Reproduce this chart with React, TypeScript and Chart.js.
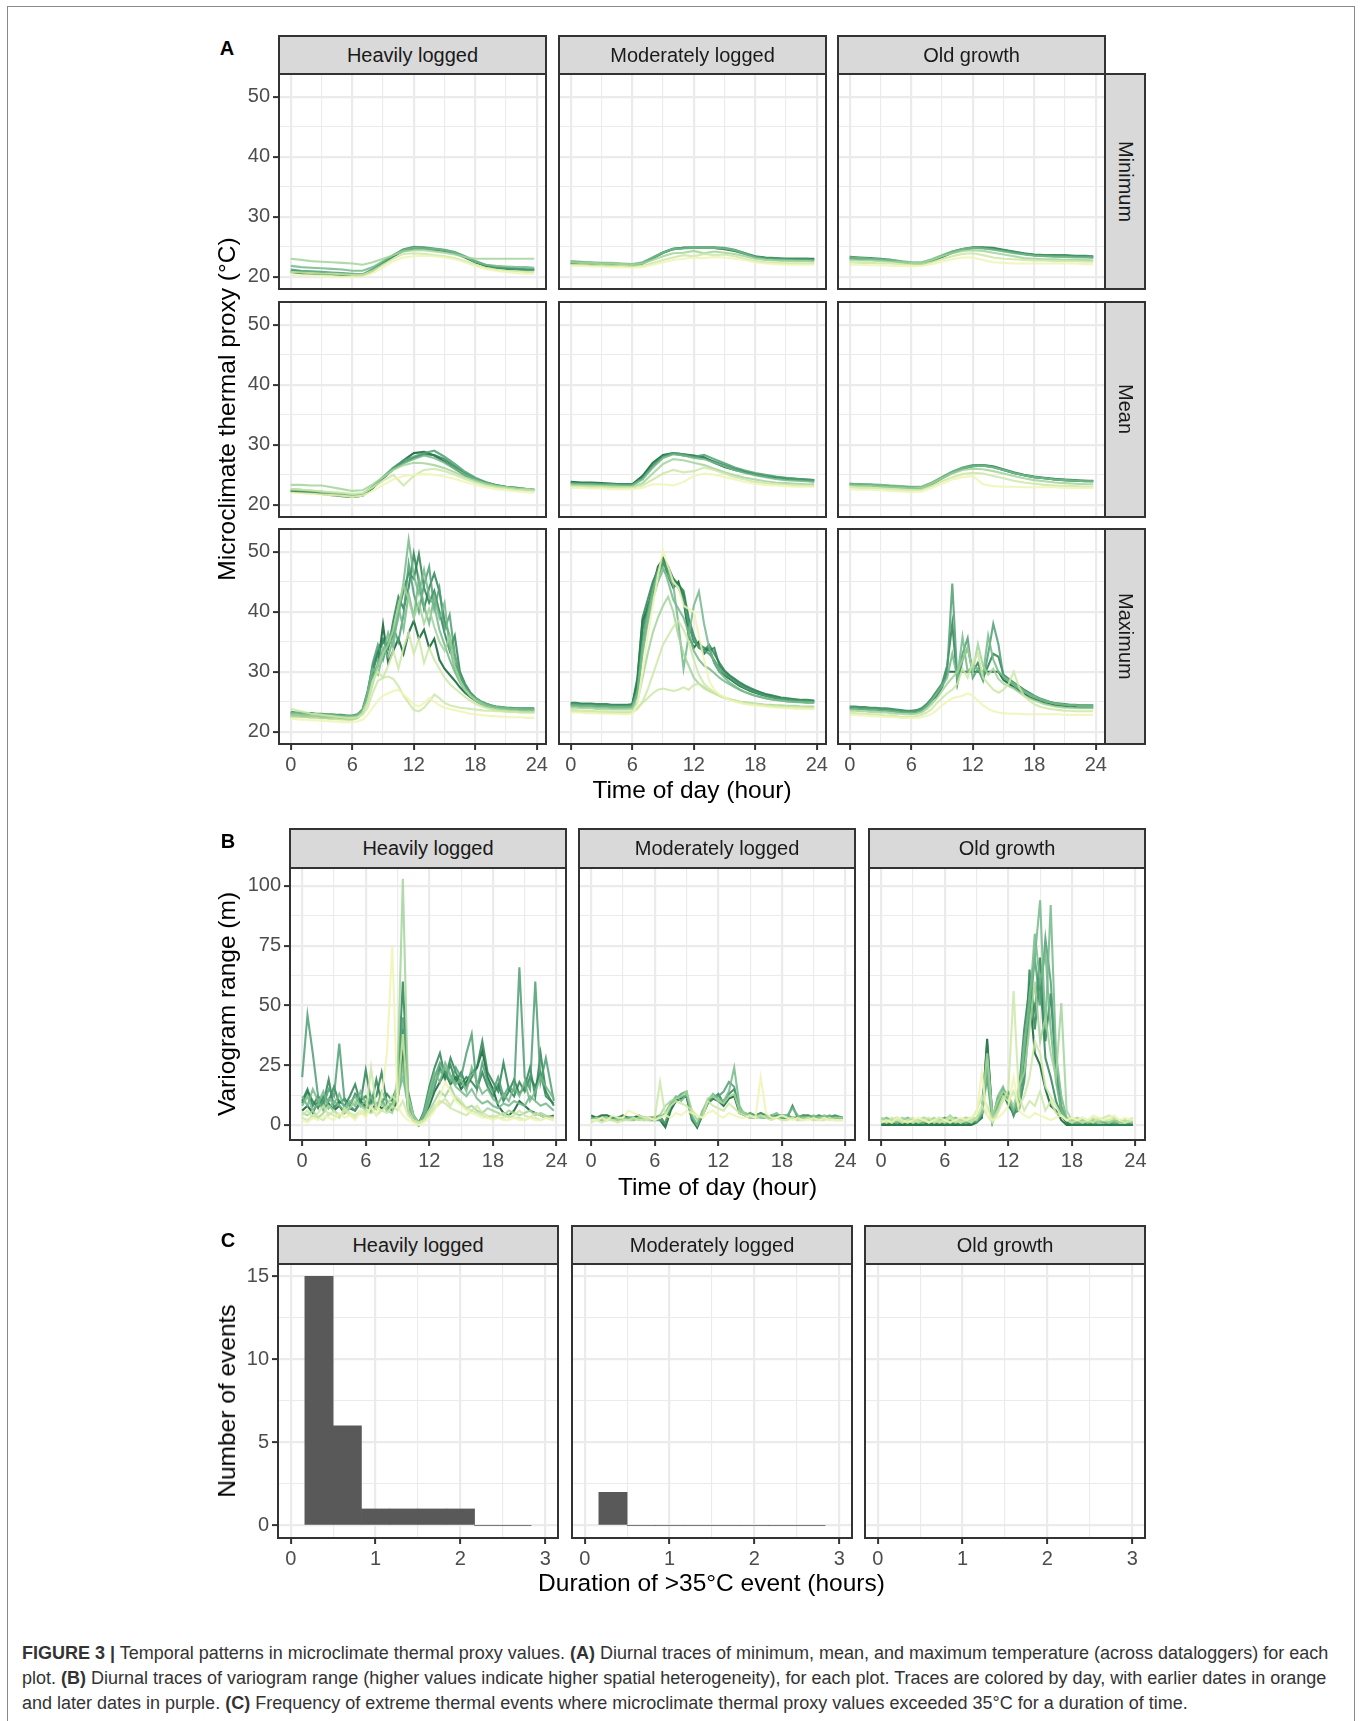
import { useEffect, useRef } from "react";
import { Chart, registerables } from "chart.js";

Chart.register(...registerables);

const FONT = '"Liberation Sans", Arial, Helvetica, sans-serif';
Chart.defaults.font.family = FONT;

// facet names
const PLOTS = ["Heavily logged", "Moderately logged", "Old growth"];
const STATS = ["Minimum", "Mean", "Maximum"];

// sample times (hour of day)
const HOURS = [0, 1, 2, 3, 4, 5, 6, 7, 8, 9, 10, 11, 12, 13, 14, 15, 16, 17, 18, 19, 20, 21, 22, 23, 23.75];
const HALF_HOURS = [
  0, 0.5, 1, 1.5, 2, 2.5, 3, 3.5, 4, 4.5, 5, 5.5,
  6, 6.5, 7, 7.5, 8, 8.5, 9, 9.5, 10, 10.5, 11, 11.5,
  12, 12.5, 13, 13.5, 14, 14.5, 15, 15.5, 16, 16.5, 17, 17.5,
  18, 18.5, 19, 19.5, 20, 20.5, 21, 21.5, 22, 22.5, 23, 23.75,
];

// grid breaks, and the breaks that carry a label
const HOUR_BREAKS = [0, 3, 6, 9, 12, 15, 18, 21, 24];
const HOUR_LABELS = [0, 6, 12, 18, 24];
const TEMP_BREAKS = [20, 25, 30, 35, 40, 45, 50];
const TEMP_LABELS = [20, 30, 40, 50];
const RANGE_BREAKS = [0, 12.5, 25, 37.5, 50, 62.5, 75, 87.5, 100];
const RANGE_LABELS = [0, 25, 50, 75, 100];
const DURATION_BREAKS = [0, 0.5, 1, 1.5, 2, 2.5, 3];
const DURATION_LABELS = [0, 1, 2, 3];
const COUNT_BREAKS = [0, 2.5, 5, 7.5, 10, 12.5, 15];
const COUNT_LABELS = [0, 5, 10, 15];

// day colours, earliest (lightest) first
const DAY_COLORS = ["#eef5b4", "#cde7a6", "#a2d39a", "#74b98a", "#4f9d74", "#2b8352", "#0b6030"];

// ---- A: minimum (hourly) ----
const MIN_HEAVY = [
  [20.3, 20.2, 20.2, 20.1, 20.1, 20.0, 20.0, 20.0, 20.6, 21.5, 22.6, 23.2, 23.4, 23.5, 23.4, 23.2, 22.9, 22.4, 21.8, 21.3, 21.0, 20.8, 20.6, 20.5, 20.5],
  [20.8, 20.7, 20.6, 20.5, 20.5, 20.4, 20.3, 20.3, 21.0, 22.0, 23.0, 23.8, 23.9, 23.8, 23.6, 23.4, 23.1, 22.6, 22.0, 21.5, 21.2, 21.0, 20.9, 20.8, 20.8],
  [23.0, 22.8, 22.6, 22.5, 22.4, 22.3, 22.2, 22.0, 22.4, 23.0, 23.6, 24.2, 24.4, 24.4, 24.2, 24.0, 23.7, 23.3, 23.0, 23.0, 23.0, 23.0, 23.0, 23.0, 23.0],
  [21.8, 21.6, 21.5, 21.4, 21.3, 21.2, 21.0, 21.0, 21.6, 22.6, 23.6, 24.4, 24.8, 24.7, 24.6, 24.4, 24.0, 23.3, 22.5, 22.0, 21.8, 21.7, 21.6, 21.6, 21.5],
  [21.2, 21.0, 20.9, 20.8, 20.7, 20.6, 20.5, 20.4, 21.3, 22.4, 23.6, 24.6, 25.0, 24.9, 24.7, 24.5, 24.1, 23.4, 22.6, 22.0, 21.6, 21.4, 21.3, 21.2, 21.2],
  [21.0, 20.8, 20.6, 20.5, 20.4, 20.4, 20.3, 20.3, 21.1, 22.3, 23.5, 24.5, 24.9, 24.8, 24.6, 24.4, 24.0, 23.3, 22.5, 21.9, 21.5, 21.3, 21.2, 21.1, 21.1],
  [20.8, 20.6, 20.5, 20.4, 20.3, 20.2, 20.2, 20.2, 21.0, 22.2, 23.4, 24.3, 24.7, 24.7, 24.5, 24.3, 23.9, 23.2, 22.4, 21.8, 21.5, 21.4, 21.3, 21.2, 21.2],
];
const MIN_MODERATE = [
  [21.8, 21.8, 21.7, 21.7, 21.6, 21.6, 21.5, 21.6, 22.0, 22.4, 22.8, 23.0, 23.2, 23.1, 23.3, 23.2, 23.0, 22.8, 22.4, 22.2, 22.1, 22.0, 22.0, 22.0, 22.0],
  [22.0, 22.0, 21.9, 21.9, 21.8, 21.8, 21.7, 21.8, 22.3, 22.8, 23.2, 23.6, 23.4, 23.8, 23.6, 23.7, 23.4, 23.0, 22.6, 22.4, 22.3, 22.2, 22.2, 22.2, 22.2],
  [22.4, 22.3, 22.3, 22.2, 22.2, 22.1, 22.0, 22.2, 22.8, 23.4, 23.9, 24.0, 24.3, 23.9, 24.2, 24.0, 23.8, 23.4, 23.0, 22.8, 22.7, 22.6, 22.6, 22.6, 22.5],
  [22.6, 22.5, 22.4, 22.3, 22.3, 22.2, 22.1, 22.4, 23.2, 24.0, 24.6, 24.7, 24.8, 24.8, 24.8, 24.7, 24.4, 23.8, 23.2, 22.9, 22.8, 22.8, 22.7, 22.7, 22.7],
  [22.5, 22.4, 22.3, 22.2, 22.1, 22.0, 21.9, 22.3, 23.2, 24.1, 24.7, 24.8, 24.9, 24.9, 24.9, 24.8, 24.5, 23.9, 23.3, 23.1, 23.0, 22.9, 22.9, 22.9, 22.8],
  [22.3, 22.2, 22.1, 22.0, 21.9, 21.8, 21.8, 22.2, 23.1, 24.0, 24.6, 24.8, 24.8, 24.8, 24.8, 24.7, 24.4, 23.9, 23.4, 23.2, 23.1, 23.0, 23.0, 23.0, 22.9],
  [22.2, 22.1, 22.0, 21.9, 21.8, 21.8, 21.8, 22.2, 23.1, 24.0, 24.6, 24.8, 24.8, 24.8, 24.8, 24.6, 24.3, 23.8, 23.3, 23.1, 23.0, 23.0, 23.0, 23.0, 23.0],
];
const MIN_OLD = [
  [22.0, 22.0, 21.9, 21.9, 21.8, 21.8, 21.7, 21.8, 22.1, 22.5, 22.9, 23.2, 23.2, 22.8, 22.4, 22.3, 22.2, 22.2, 22.2, 22.2, 22.2, 22.2, 22.2, 22.1, 22.1],
  [22.4, 22.3, 22.3, 22.2, 22.2, 22.1, 22.0, 22.0, 22.4, 22.9, 23.4, 23.8, 23.9, 23.6, 23.2, 23.0, 22.9, 22.8, 22.7, 22.7, 22.6, 22.6, 22.6, 22.5, 22.5],
  [22.8, 22.7, 22.7, 22.6, 22.5, 22.4, 22.3, 22.3, 22.8, 23.4, 23.9, 24.3, 24.4, 24.3, 24.0, 23.7, 23.4, 23.1, 23.0, 22.9, 22.9, 22.8, 22.8, 22.8, 22.7],
  [23.2, 23.1, 23.0, 22.9, 22.8, 22.6, 22.4, 22.4, 22.9, 23.6, 24.2, 24.6, 24.8, 24.7, 24.5, 24.2, 23.9, 23.7, 23.5, 23.4, 23.3, 23.3, 23.2, 23.2, 23.2],
  [23.0, 22.9, 22.9, 22.8, 22.7, 22.5, 22.3, 22.2, 22.8, 23.5, 24.2, 24.6, 24.8, 24.8, 24.6, 24.4, 24.1, 23.8, 23.6, 23.5, 23.5, 23.4, 23.4, 23.3, 23.3],
  [23.3, 23.2, 23.1, 23.0, 22.8, 22.5, 22.3, 22.2, 22.7, 23.4, 24.1, 24.6, 24.9, 24.9, 24.8, 24.5, 24.2, 23.9, 23.7, 23.6, 23.6, 23.6, 23.5, 23.5, 23.4],
  [23.1, 23.0, 23.0, 22.9, 22.7, 22.4, 22.2, 22.1, 22.6, 23.3, 24.0, 24.5, 24.8, 24.8, 24.7, 24.4, 24.1, 23.8, 23.6, 23.5, 23.5, 23.4, 23.4, 23.3, 23.2],
];

// ---- A: mean (hourly) ----
const MEAN_HEAVY = [
  [22.0, 21.9, 21.8, 21.7, 21.6, 21.5, 21.3, 21.5, 22.3, 23.3, 24.2, 24.8, 25.0, 25.1, 25.0, 24.7, 24.3, 23.8, 23.3, 22.9, 22.6, 22.4, 22.2, 22.1, 22.0],
  [22.6, 22.5, 22.4, 22.2, 22.1, 22.0, 21.8, 21.9, 22.9, 24.0, 25.0, 23.2, 24.8, 25.8, 26.0, 25.6, 25.0, 24.3, 23.7, 23.2, 22.9, 22.7, 22.5, 22.4, 22.3],
  [23.3, 23.3, 23.2, 23.2, 22.9, 22.6, 22.3, 22.4, 23.4, 24.6, 25.8, 26.6, 27.0, 26.9, 26.6, 26.1, 25.4, 24.6, 24.0, 23.5, 23.1, 22.9, 22.7, 22.6, 22.5],
  [22.6, 22.5, 22.3, 22.2, 22.0, 21.8, 21.6, 21.8, 23.0, 24.5, 25.9, 26.9, 27.6, 28.2, 27.8, 27.0, 26.0, 25.0, 24.2, 23.6, 23.2, 22.9, 22.7, 22.6, 22.5],
  [22.4, 22.3, 22.2, 22.0, 21.8, 21.6, 21.4, 21.6, 23.0, 24.6, 26.2, 27.4, 28.0, 28.6, 29.0, 28.0, 26.8, 25.5, 24.5, 23.8, 23.3, 23.0, 22.8, 22.6, 22.5],
  [22.3, 22.2, 22.1, 21.9, 21.7, 21.5, 21.3, 21.5, 22.8, 24.4, 25.9, 27.0, 27.8, 28.4, 28.3, 27.6, 26.4, 25.2, 24.3, 23.7, 23.3, 23.0, 22.8, 22.6, 22.5],
  [22.2, 22.1, 22.0, 21.8, 21.6, 21.4, 21.3, 21.5, 22.8, 24.4, 26.0, 27.4, 28.6, 28.8, 28.2, 27.2, 26.0, 24.9, 24.1, 23.6, 23.2, 22.9, 22.7, 22.5, 22.4],
];
const MEAN_MODERATE = [
  [22.8, 22.8, 22.7, 22.7, 22.6, 22.6, 22.6, 22.8, 23.4, 23.4, 23.2, 23.8, 24.8, 25.2, 25.0, 24.6, 24.2, 23.8, 23.5, 23.3, 23.2, 23.1, 23.0, 23.0, 23.0],
  [23.0, 23.0, 22.9, 22.9, 22.8, 22.8, 22.8, 23.2, 24.2, 25.2, 25.8, 25.4, 25.6, 26.2, 25.8, 25.2, 24.6, 24.2, 23.8, 23.6, 23.4, 23.3, 23.2, 23.2, 23.1],
  [23.2, 23.2, 23.1, 23.1, 23.0, 23.0, 23.0, 23.6, 25.2, 26.8, 27.6, 27.4, 27.0, 26.6, 26.0, 25.4, 24.9, 24.5, 24.2, 23.9, 23.7, 23.6, 23.5, 23.4, 23.4],
  [23.5, 23.4, 23.4, 23.3, 23.3, 23.2, 23.2, 24.2, 26.2, 27.8, 28.4, 28.2, 27.8, 27.6, 27.0, 26.4, 25.8, 25.3, 24.9, 24.6, 24.3, 24.1, 24.0, 23.9, 23.8],
  [23.6, 23.5, 23.5, 23.4, 23.4, 23.3, 23.3, 24.4, 26.4, 28.0, 28.6, 28.4, 28.0, 28.3, 27.6, 26.9, 26.2, 25.7, 25.3, 25.0, 24.7, 24.5, 24.3, 24.2, 24.1],
  [23.7, 23.6, 23.6, 23.5, 23.5, 23.4, 23.4, 24.5, 26.6, 28.1, 28.5, 28.2, 28.0, 27.8, 27.2, 26.6, 26.0, 25.5, 25.1, 24.8, 24.6, 24.4, 24.3, 24.2, 24.1],
  [23.8, 23.7, 23.7, 23.6, 23.5, 23.4, 23.4, 24.8, 27.0, 28.3, 28.6, 28.4, 28.2, 27.9, 27.0, 26.3, 25.8, 25.4, 25.0, 24.7, 24.5, 24.3, 24.2, 24.1, 24.0],
];
const MEAN_OLD = [
  [22.6, 22.5, 22.5, 22.4, 22.3, 22.2, 22.1, 22.2, 22.8, 23.5, 24.2, 24.6, 24.8, 23.4, 23.1, 23.0, 23.0, 22.9, 22.9, 22.9, 22.9, 22.8, 22.8, 22.8, 22.8],
  [22.9, 22.8, 22.8, 22.7, 22.6, 22.5, 22.4, 22.5, 23.1, 23.9, 24.6, 25.1, 25.3, 25.2, 24.8, 24.4, 24.0, 23.7, 23.5, 23.3, 23.2, 23.1, 23.1, 23.0, 23.0],
  [23.2, 23.1, 23.1, 23.0, 22.9, 22.8, 22.7, 22.8, 23.5, 24.4, 25.2, 25.8, 26.0, 25.9, 25.6, 25.2, 24.8, 24.4, 24.1, 23.9, 23.7, 23.6, 23.5, 23.4, 23.4],
  [23.5, 23.4, 23.4, 23.3, 23.2, 23.1, 23.0, 23.0, 23.7, 24.6, 25.5, 26.1, 26.4, 26.5, 26.2, 25.8, 25.3, 24.9, 24.6, 24.4, 24.2, 24.1, 24.0, 23.9, 23.9],
  [23.4, 23.3, 23.3, 23.2, 23.1, 23.0, 22.9, 22.9, 23.6, 24.6, 25.5, 26.2, 26.6, 26.6, 26.3, 25.8, 25.3, 24.9, 24.6, 24.4, 24.2, 24.1, 24.0, 24.0, 23.9],
  [23.5, 23.4, 23.3, 23.2, 23.1, 23.0, 22.9, 22.8, 23.5, 24.5, 25.4, 26.1, 26.5, 26.6, 26.4, 25.9, 25.4, 25.0, 24.7, 24.5, 24.3, 24.2, 24.1, 24.0, 24.0],
  [23.4, 23.3, 23.2, 23.1, 23.0, 22.9, 22.8, 22.7, 23.4, 24.4, 25.3, 26.0, 26.4, 26.5, 26.3, 25.8, 25.3, 24.9, 24.6, 24.4, 24.2, 24.1, 24.0, 23.9, 23.9],
];

// ---- A: maximum (half-hourly) ----
const MAX_HEAVY = [
  [22.2, 22.1, 22.0, 22.0, 21.9, 21.9, 21.8, 21.8, 21.7, 21.7, 21.6, 21.6,
   21.6, 21.7, 22.0, 22.8, 24.0, 25.2, 26.0, 26.4, 26.8, 27.0, 26.2, 25.4,
   24.6, 24.2, 24.8, 25.6, 25.0, 24.4, 24.0, 23.8, 23.6, 23.4, 23.2, 23.0,
   22.9, 22.8, 22.7, 22.6, 22.6, 22.5, 22.5, 22.4, 22.4, 22.4, 22.3, 22.3],
  [23.8, 23.6, 23.4, 23.2, 23.0, 22.9, 22.8, 22.7, 22.6, 22.5, 22.4, 22.3,
   22.3, 22.4, 22.8, 24.0, 26.5, 28.5, 29.0, 29.2, 28.8, 27.6, 26.0, 24.8,
   23.6, 23.4, 24.0, 25.0, 26.2, 25.6, 24.8, 24.4, 24.2, 24.0, 23.9, 23.8,
   23.7, 23.6, 23.5, 23.5, 23.4, 23.4, 23.3, 23.3, 23.3, 23.2, 23.2, 23.2],
  [22.5, 22.5, 22.4, 22.4, 22.3, 22.3, 22.2, 22.2, 22.1, 22.1, 22.0, 22.0,
   22.0, 22.2, 23.0, 25.0, 28.5, 30.0, 29.0, 31.0, 33.5, 30.5, 34.0, 36.5,
   33.0, 35.5, 31.5, 34.0, 32.0, 30.5, 29.0, 28.0, 27.2, 26.5, 25.8, 25.2,
   24.7, 24.3, 24.0, 23.8, 23.6, 23.5, 23.4, 23.3, 23.3, 23.2, 23.2, 23.2],
  [22.8, 22.8, 22.7, 22.7, 22.6, 22.6, 22.5, 22.5, 22.4, 22.4, 22.3, 22.3,
   22.3, 22.5, 23.2, 25.0, 28.0, 31.0, 33.0, 34.5, 37.0, 41.0, 44.5, 42.0,
   39.0, 41.5, 38.0, 40.5, 37.5, 35.0, 33.5, 36.0, 31.0, 28.6, 27.0, 26.0,
   25.2, 24.7, 24.3, 24.0, 23.8, 23.7, 23.6, 23.5, 23.5, 23.4, 23.4, 23.4],
  [23.0, 23.0, 22.9, 22.9, 22.8, 22.8, 22.7, 22.7, 22.6, 22.6, 22.5, 22.5,
   22.5, 22.7, 23.5, 26.5, 30.5, 29.5, 33.0, 36.5, 34.0, 41.0, 37.0, 43.0,
   39.0, 45.5, 41.0, 38.0, 42.5, 39.0, 41.5, 34.0, 30.5, 28.5, 27.2, 26.2,
   25.5, 25.0, 24.6, 24.3, 24.1, 24.0, 23.9, 23.8, 23.8, 23.7, 23.7, 23.7],
  [23.2, 23.1, 23.1, 23.0, 23.0, 22.9, 22.9, 22.8, 22.8, 22.7, 22.7, 22.6,
   22.6, 22.8, 23.6, 25.8, 29.0, 31.5, 34.0, 32.5, 35.5, 39.0, 45.0, 52.0,
   46.0, 43.0, 47.0, 42.5, 41.0, 37.0, 34.5, 32.0, 30.0, 28.2, 26.9, 26.0,
   25.4, 25.0, 24.6, 24.3, 24.1, 24.0, 23.9, 23.8, 23.8, 23.7, 23.7, 23.7],
  [23.1, 23.1, 23.0, 23.0, 22.9, 22.9, 22.8, 22.8, 22.7, 22.7, 22.6, 22.6,
   22.6, 22.8, 23.6, 26.4, 31.5, 34.5, 32.0, 35.0, 37.5, 35.0, 39.5, 48.0,
   43.0, 40.0, 44.5, 47.5, 40.5, 44.0, 37.0, 39.5, 33.0, 29.4, 27.6, 26.4,
   25.6, 25.1, 24.7, 24.4, 24.2, 24.1, 24.0, 23.9, 23.9, 23.8, 23.8, 23.8],
  [22.9, 22.9, 22.8, 22.8, 22.7, 22.7, 22.6, 22.6, 22.5, 22.5, 22.4, 22.4,
   22.4, 22.6, 23.4, 26.2, 30.0, 33.0, 35.0, 33.8, 38.5, 42.5, 40.5, 44.0,
   49.7, 45.0, 40.5, 44.0, 46.4, 43.4, 38.5, 36.0, 31.5, 29.0, 27.4, 26.2,
   25.4, 24.9, 24.5, 24.2, 24.0, 23.9, 23.8, 23.7, 23.7, 23.6, 23.6, 23.6],
  [23.3, 23.2, 23.2, 23.1, 23.1, 23.0, 23.0, 22.9, 22.9, 22.8, 22.8, 22.7,
   22.7, 22.9, 23.7, 26.8, 31.0, 33.5, 35.5, 34.2, 36.2, 40.0, 43.5, 46.5,
   45.5, 49.6, 44.0, 41.5, 43.5, 40.0, 36.5, 33.5, 36.0, 30.0, 28.0, 26.6,
   25.7, 25.1, 24.7, 24.4, 24.2, 24.1, 24.0, 24.0, 23.9, 23.9, 23.9, 23.9],
  [22.6, 22.6, 22.5, 22.5, 22.4, 22.4, 22.3, 22.3, 22.2, 22.2, 22.2, 22.1,
   22.1, 22.3, 23.2, 26.0, 29.5, 31.0, 37.8, 31.5, 33.5, 35.5, 33.0, 36.5,
   38.5, 35.5, 37.0, 34.0, 35.5, 32.0, 30.5, 29.5, 28.5, 27.4, 26.5, 25.8,
   25.2, 24.7, 24.3, 24.0, 23.8, 23.6, 23.5, 23.4, 23.4, 23.3, 23.3, 23.3],
];
const MAX_MODERATE = [
  [23.2, 23.2, 23.2, 23.1, 23.1, 23.1, 23.0, 23.0, 23.0, 23.0, 22.9, 22.9,
   23.0, 24.5, 30.0, 36.0, 41.0, 46.0, 50.2, 47.5, 45.0, 44.0, 41.0, 40.5,
   40.0, 36.0, 32.0, 28.5, 27.0, 26.2, 25.7, 25.3, 25.0, 24.8, 24.6, 24.5,
   24.4, 24.3, 24.2, 24.1, 24.0, 24.0, 23.9, 23.9, 23.8, 23.8, 23.8, 23.7],
  [23.6, 23.6, 23.5, 23.5, 23.5, 23.4, 23.4, 23.4, 23.3, 23.3, 23.3, 23.3,
   23.4, 24.0, 24.8, 25.6, 26.4, 27.0, 27.2, 27.0, 26.8, 27.0, 27.4, 27.0,
   27.8, 28.0, 27.2, 26.8, 26.4, 26.0, 25.7, 25.4, 25.2, 25.0, 24.8, 24.7,
   24.6, 24.5, 24.4, 24.3, 24.3, 24.2, 24.2, 24.1, 24.1, 24.1, 24.0, 24.0],
  [23.4, 23.4, 23.3, 23.3, 23.3, 23.2, 23.2, 23.2, 23.1, 23.1, 23.1, 23.1,
   23.2, 23.8, 25.0, 27.0, 29.5, 32.0, 34.5, 36.0, 37.5, 38.5, 37.0, 35.0,
   32.0, 29.5, 28.0, 27.2, 26.6, 26.1, 25.7, 25.4, 25.1, 24.9, 24.7, 24.6,
   24.5, 24.4, 24.3, 24.2, 24.2, 24.1, 24.1, 24.0, 24.0, 24.0, 23.9, 23.9],
  [24.0, 24.0, 23.9, 23.9, 23.9, 23.8, 23.8, 23.8, 23.7, 23.7, 23.7, 23.7,
   23.8, 25.0, 29.0, 33.0, 36.5, 39.0, 41.0, 42.5, 40.0, 36.0, 33.0, 31.0,
   29.0, 28.0, 27.4, 26.8, 26.4, 26.0, 25.6, 25.4, 25.2, 25.0, 24.9, 24.8,
   24.7, 24.6, 24.5, 24.5, 24.4, 24.4, 24.3, 24.3, 24.3, 24.2, 24.2, 24.2],
  [24.2, 24.2, 24.1, 24.1, 24.1, 24.0, 24.0, 24.0, 23.9, 23.9, 23.9, 23.9,
   24.0, 26.5, 34.0, 39.0, 43.5, 46.5, 47.5, 45.0, 42.0, 40.5, 39.0, 36.5,
   33.5, 32.0, 31.0, 30.5, 29.8, 29.0, 28.4, 27.9, 27.4, 27.0, 26.6, 26.3,
   26.0, 25.8, 25.6, 25.4, 25.3, 25.2, 25.1, 25.0, 24.9, 24.9, 24.8, 24.8],
  [24.4, 24.4, 24.3, 24.3, 24.3, 24.2, 24.2, 24.2, 24.1, 24.1, 24.1, 24.1,
   24.2, 26.0, 33.0, 38.0, 42.0, 45.0, 47.0, 46.0, 44.5, 38.0, 30.5, 36.0,
   41.0, 43.4, 38.0, 34.0, 31.5, 30.0, 29.0, 28.2, 27.6, 27.0, 26.6, 26.3,
   26.0, 25.8, 25.6, 25.4, 25.3, 25.2, 25.1, 25.0, 25.0, 24.9, 24.9, 24.9],
  [24.6, 24.6, 24.5, 24.5, 24.5, 24.4, 24.4, 24.4, 24.3, 24.3, 24.3, 24.3,
   24.4, 27.0, 35.0, 40.0, 44.0, 47.0, 48.5, 46.5, 45.0, 44.0, 42.0, 38.0,
   35.5, 34.0, 33.5, 33.0, 32.0, 30.5, 29.6, 29.0, 28.4, 27.8, 27.3, 26.9,
   26.6, 26.3, 26.0, 25.8, 25.6, 25.5, 25.4, 25.3, 25.2, 25.1, 25.1, 25.0],
  [24.7, 24.7, 24.6, 24.6, 24.6, 24.5, 24.5, 24.5, 24.4, 24.4, 24.4, 24.4,
   24.5, 29.0, 39.0, 42.0, 45.0, 47.0, 49.0, 47.5, 45.5, 44.5, 43.5, 39.0,
   36.0, 34.0, 33.5, 34.5, 33.0, 31.5, 30.2, 29.4, 28.8, 28.2, 27.7, 27.3,
   26.9, 26.6, 26.3, 26.1, 25.9, 25.7, 25.6, 25.5, 25.4, 25.3, 25.3, 25.2],
  [24.8, 24.8, 24.7, 24.7, 24.7, 24.6, 24.6, 24.6, 24.5, 24.5, 24.5, 24.5,
   24.6, 28.0, 37.0, 41.0, 43.0, 46.0, 48.0, 47.0, 45.5, 44.5, 43.0, 38.0,
   35.0, 34.5, 34.0, 33.5, 34.0, 31.0, 30.0, 29.2, 28.6, 28.0, 27.5, 27.1,
   26.8, 26.5, 26.2, 26.0, 25.8, 25.6, 25.5, 25.4, 25.3, 25.2, 25.2, 25.1],
  [24.5, 24.5, 24.4, 24.4, 24.4, 24.3, 24.3, 24.3, 24.2, 24.2, 24.2, 24.2,
   24.3, 28.5, 38.5, 40.5, 44.0, 47.5, 48.8, 46.0, 44.0, 45.0, 42.0, 36.0,
   34.0, 35.0, 33.0, 34.0, 31.5, 30.0, 29.4, 28.8, 28.2, 27.6, 27.2, 26.8,
   26.5, 26.2, 26.0, 25.8, 25.6, 25.4, 25.3, 25.2, 25.1, 25.0, 25.0, 25.0],
];
const MAX_OLD = [
  [22.8, 22.8, 22.7, 22.7, 22.6, 22.6, 22.5, 22.5, 22.4, 22.4, 22.3, 22.3,
   22.3, 22.3, 22.4, 22.6, 23.0, 23.6, 24.4, 25.0, 25.6, 25.8, 26.0, 26.4,
   26.0, 25.2, 24.4, 23.8, 23.4, 23.2, 23.1, 23.0, 23.0, 23.0, 22.9, 22.9,
   22.9, 22.9, 22.9, 22.9, 22.9, 22.9, 22.8, 22.8, 22.8, 22.8, 22.8, 22.8],
  [23.1, 23.1, 23.0, 23.0, 22.9, 22.9, 22.8, 22.7, 22.7, 22.6, 22.5, 22.5,
   22.5, 22.6, 22.8, 23.2, 23.8, 24.8, 25.6, 26.4, 27.0, 28.0, 30.5, 29.0,
   31.5, 33.0, 29.0, 28.0, 27.0, 26.5, 27.0, 28.0, 30.0, 27.5, 26.0, 25.2,
   24.6, 24.2, 24.0, 23.8, 23.7, 23.6, 23.5, 23.5, 23.4, 23.4, 23.4, 23.4],
  [23.5, 23.5, 23.4, 23.4, 23.3, 23.3, 23.2, 23.2, 23.1, 23.0, 23.0, 22.9,
   22.9, 23.0, 23.2, 23.8, 24.6, 25.6, 26.8, 28.0, 29.0, 30.0, 32.0, 34.0,
   30.0, 34.6, 31.0, 29.5, 30.5, 28.8, 28.0, 27.6, 27.2, 26.6, 26.0, 25.6,
   25.2, 24.9, 24.6, 24.4, 24.2, 24.1, 24.0, 24.0, 23.9, 23.9, 23.9, 23.9],
  [23.8, 23.8, 23.7, 23.7, 23.6, 23.6, 23.5, 23.5, 23.4, 23.3, 23.2, 23.2,
   23.1, 23.2, 23.5, 24.2, 25.2, 26.4, 27.6, 29.0, 33.0, 29.0, 35.8, 30.0,
   31.0, 30.5, 29.5, 36.0, 32.0, 30.0, 29.2, 28.6, 28.0, 27.4, 26.8, 26.3,
   25.9, 25.5, 25.2, 24.9, 24.7, 24.6, 24.5, 24.4, 24.4, 24.3, 24.3, 24.3],
  [24.0, 24.0, 23.9, 23.9, 23.8, 23.8, 23.7, 23.7, 23.6, 23.5, 23.4, 23.3,
   23.3, 23.4, 23.7, 24.4, 25.4, 26.6, 27.8, 30.0, 44.7, 28.5, 33.0, 35.6,
   29.0, 30.5, 28.5, 33.0, 38.0, 34.6, 29.0, 28.4, 27.8, 27.2, 26.7, 26.2,
   25.8, 25.4, 25.1, 24.9, 24.7, 24.6, 24.5, 24.4, 24.4, 24.3, 24.3, 24.3],
  [24.2, 24.2, 24.1, 24.1, 24.0, 24.0, 23.9, 23.9, 23.8, 23.7, 23.6, 23.5,
   23.5, 23.6, 23.9, 24.6, 25.6, 26.8, 28.0, 31.0, 38.0, 28.0, 32.0, 34.0,
   30.0, 31.5, 29.0, 31.0, 33.0, 32.5, 29.5, 28.8, 28.2, 27.6, 27.0, 26.5,
   26.0, 25.6, 25.3, 25.0, 24.8, 24.7, 24.6, 24.5, 24.5, 24.4, 24.4, 24.4],
  [23.9, 23.9, 23.8, 23.8, 23.7, 23.7, 23.6, 23.6, 23.5, 23.4, 23.3, 23.3,
   23.2, 23.3, 23.6, 24.3, 25.2, 26.0, 27.4, 30.0, 30.0, 30.0, 30.0, 30.0,
   30.0, 30.0, 30.0, 30.0, 30.0, 30.0, 28.6, 28.0, 27.4, 26.8, 26.3, 25.8,
   25.4, 25.1, 24.8, 24.6, 24.4, 24.3, 24.2, 24.1, 24.1, 24.0, 24.0, 24.0],
];

// ---- B: variogram range, m (half-hourly) ----
const RANGE_HEAVY = [
  [2, 1, 3, 2, 4, 3, 2, 5, 3, 4, 2, 6,
   3, 8, 4, 12, 30, 75, 8, 4, 2, 1, 0, 1,
   3, 6, 12, 18, 14, 10, 8, 6, 5, 4, 3, 3,
   2, 3, 2, 2, 3, 2, 2, 3, 2, 2, 3, 2],
  [3, 2, 4, 3, 2, 5, 4, 3, 6, 4, 3, 5,
   4, 24, 7, 6, 5, 8, 6, 10, 4, 2, 1, 2,
   5, 8, 10, 9, 7, 6, 5, 4, 6, 5, 4, 3,
   4, 3, 3, 4, 3, 3, 2, 3, 3, 2, 3, 2],
  [4, 6, 3, 5, 8, 4, 6, 3, 7, 5, 4, 6,
   5, 7, 4, 6, 8, 12, 10, 38, 6, 2, 0, 2,
   4, 7, 9, 11, 8, 12, 10, 7, 6, 8, 5, 4,
   3, 4, 5, 3, 4, 6, 4, 3, 5, 4, 3, 3],
  [5, 4, 6, 3, 5, 8, 6, 4, 5, 7, 10, 8,
   6, 5, 7, 9, 6, 5, 20, 103, 12, 4, 1, 2,
   6, 10, 14, 12, 16, 11, 9, 7, 8, 6, 5, 7,
   6, 5, 4, 6, 5, 4, 5, 6, 4, 5, 4, 3],
  [12, 8, 15, 10, 6, 11, 9, 13, 7, 10, 8, 14,
   9, 12, 7, 14, 10, 8, 11, 25, 9, 3, 0, 5,
   14, 22, 18, 26, 21, 17, 19, 14, 24, 18, 13, 15,
   11, 9, 13, 10, 16, 12, 18, 10, 14, 20, 16, 11],
  [8, 12, 6, 9, 14, 7, 10, 8, 6, 9, 12, 8,
   10, 6, 8, 11, 7, 9, 12, 20, 8, 3, 0, 3,
   10, 18, 22, 24, 20, 16, 14, 12, 15, 11, 9, 10,
   8, 7, 9, 8, 10, 9, 8, 12, 10, 8, 9, 6],
  [20, 46, 30, 12, 8, 15, 12, 34, 10, 8, 6, 9,
   7, 12, 8, 10, 6, 8, 15, 45, 10, 3, 1, 4,
   12, 20, 26, 22, 18, 24, 20, 30, 38, 15, 26, 18,
   14, 20, 12, 16, 14, 66, 20, 15, 60, 18, 28, 10],
  [9, 14, 10, 7, 12, 10, 16, 9, 11, 8, 13, 10,
   12, 8, 19, 9, 13, 10, 14, 40, 11, 4, 1, 5,
   11, 16, 24, 19, 28, 22, 17, 20, 18, 15, 22, 16,
   12, 17, 10, 14, 19, 13, 16, 24, 12, 30, 14, 8],
  [10, 15, 8, 12, 9, 19, 7, 10, 8, 12, 17, 9,
   23, 10, 12, 22, 9, 11, 16, 60, 14, 4, 0, 6,
   16, 24, 30, 20, 25, 18, 22, 16, 20, 24, 35, 22,
   18, 14, 26, 15, 12, 18, 14, 20, 16, 22, 12, 9],
  [6, 8, 5, 10, 7, 9, 6, 8, 5, 7, 6, 10,
   8, 6, 9, 7, 8, 6, 10, 30, 6, 2, 0, 4,
   8, 14, 18, 22, 17, 20, 15, 18, 22, 24, 31, 20,
   15, 8, 5, 4, 6, 10, 8, 6, 5, 4, 3, 4],
];
const RANGE_MODERATE = [
  [2, 2, 3, 2, 4, 3, 3, 6, 5, 4, 3, 3,
   2, 3, 4, 3, 5, 4, 6, 5, 4, 3, 5, 6,
   4, 3, 5, 4, 3, 3, 4, 3, 20, 5, 3, 3,
   4, 3, 2, 3, 2, 2, 3, 2, 3, 2, 2, 2],
  [1, 2, 1, 2, 2, 1, 2, 2, 3, 2, 2, 2,
   3, 18, 4, 8, 10, 9, 8, 6, 4, 3, 10, 8,
   7, 6, 9, 7, 5, 4, 3, 3, 4, 3, 2, 3,
   2, 2, 3, 2, 2, 3, 2, 2, 2, 3, 2, 2],
  [2, 3, 2, 3, 2, 2, 3, 2, 2, 3, 2, 3,
   2, 4, 8, 10, 11, 12, 14, 6, 2, 5, 11, 12,
   10, 9, 12, 13, 6, 5, 4, 3, 3, 4, 3, 3,
   4, 3, 3, 2, 3, 3, 2, 3, 3, 2, 3, 3],
  [3, 2, 3, 3, 2, 3, 2, 3, 3, 2, 3, 2,
   3, 3, 5, 9, 12, 10, 13, 4, 0, 6, 10, 13,
   11, 10, 14, 24, 8, 4, 3, 4, 4, 3, 4, 5,
   3, 4, 7, 4, 3, 3, 4, 3, 4, 3, 3, 3],
  [2, 3, 3, 2, 3, 2, 3, 3, 2, 3, 3, 2,
   2, 2, 1, 8, 11, 13, 14, 3, 0, 4, 9, 12,
   12, 14, 18, 16, 5, 4, 5, 4, 3, 3, 4, 3,
   4, 4, 3, 3, 4, 3, 3, 4, 3, 4, 3, 3],
  [3, 3, 2, 3, 3, 3, 2, 3, 3, 3, 2, 3,
   3, 4, 0, 7, 10, 12, 12, 2, -1, 5, 10, 11,
   13, 9, 13, 15, 6, 5, 4, 4, 5, 4, 3, 4,
   4, 3, 8, 3, 4, 4, 3, 4, 3, 3, 4, 3],
  [4, 3, 4, 4, 3, 3, 4, 3, 3, 4, 3, 3,
   3, 2, -1, 6, 10, 11, 12, 3, -1, 4, 9, 11,
   10, 8, 11, 12, 5, 4, 3, 3, 4, 3, 3, 3,
   3, 3, 3, 3, 3, 3, 3, 3, 3, 3, 3, 3],
];
const RANGE_OLD = [
  [1, 2, 1, 3, 2, 1, 2, 3, 2, 1, 2, 3,
   2, 1, 2, 3, 2, 3, 5, 22, 4, 2, 3, 5,
   8, 20, 6, 4, 3, 5, 4, 3, 2, 3, 4, 2,
   3, 2, 3, 2, 4, 3, 2, 3, 4, 2, 3, 2],
  [2, 1, 3, 2, 1, 2, 3, 1, 2, 3, 1, 2,
   1, 3, 2, 1, 2, 1, 3, 8, 4, 1, 5, 10,
   15, 56, 12, 6, 10, 8, 14, 6, 10, 5, 4, 2,
   3, 2, 1, 2, 3, 2, 3, 4, 3, 2, 1, 3],
  [2, 1, 2, 3, 1, 2, 1, 2, 3, 1, 2, 1,
   2, 3, 1, 2, 3, 2, 6, 12, 8, 2, 6, 12,
   10, 14, 8, 12, 20, 35, 30, 16, 12, 8, 4, 2,
   1, 2, 3, 2, 1, 3, 2, 2, 3, 2, 1, 2],
  [3, 2, 1, 2, 3, 2, 1, 2, 3, 2, 3, 1,
   2, 4, 2, 1, 2, 3, 2, 6, 30, 4, 10, 14,
   12, 8, 16, 22, 40, 60, 35, 45, 30, 20, 51, 6,
   2, 3, 2, 1, 2, 1, 2, 1, 2, 1, 2, 1],
  [1, 2, 1, 1, 2, 1, 2, 1, 1, 2, 1, 2,
   1, 1, 2, 1, 1, 2, 2, 5, 25, 2, 9, 15,
   12, 6, 10, 35, 50, 80, 60, 72, 40, 18, 6, 2,
   1, 1, 1, 2, 1, 1, 1, 1, 1, 1, 1, 1],
  [2, 3, 2, 1, 2, 3, 2, 2, 1, 2, 2, 3,
   2, 2, 3, 2, 1, 2, 3, 5, 28, 2, 12, 16,
   10, 6, 12, 30, 55, 70, 94, 40, 92, 30, 12, 3,
   2, 1, 2, 1, 1, 2, 1, 1, 2, 1, 1, 2],
  [1, 2, 2, 3, 1, 2, 2, 1, 3, 2, 1, 2,
   3, 2, 1, 2, 3, 2, 1, 4, 20, 1, 8, 12,
   14, 4, 8, 18, 46, 70, 50, 78, 60, 25, 8, 2,
   1, 1, 1, 1, 2, 1, 1, 1, 1, 2, 1, 1],
  [1, 1, 1, 0, 1, 1, 0, 1, 1, 0, 1, 1,
   0, 1, 1, 0, 1, 1, 2, 3, 30, 2, 11, 13,
   9, 5, 14, 40, 58, 48, 70, 35, 55, 22, 5, 1,
   0, 1, 0, 0, 1, 0, 0, 1, 0, 0, 0, 1],
  [0, 1, 0, 1, 1, 0, 1, 1, 0, 1, 0, 1,
   1, 0, 1, 1, 0, 1, 2, 4, 34, 3, 10, 14,
   8, 5, 6, 20, 65, 40, 62, 28, 20, 10, 4, 1,
   0, 0, 0, 1, 0, 0, 0, 0, 1, 0, 0, 0],
  [0, 0, 0, 0, 0, 0, 0, 0, 0, 0, 0, 0,
   0, 0, 0, 0, 0, 0, 1, 3, 36, 2, 6, 14,
   10, 4, 12, 25, 55, 30, 25, 15, 8, 6, 2, 0,
   0, 0, 0, 0, 0, 0, 0, 0, 0, 0, 0, 0],
];

// ---- C: events above 35 °C by duration (hours) ----
const DURATION_BINS = [0.333, 0.667, 1.0, 1.333, 1.667, 2.0, 2.333, 2.667];
const BIN_WIDTH = 0.333;
const EVENTS_HEAVY = [15, 6, 1, 1, 1, 1, 0, 0];
const EVENTS_MODERATE = [2, 0, 0, 0, 0, 0, 0, 0];
const EVENTS_OLD: number[] = [];

// ---- layout (page pixels) ----
const A_LEFT = [279, 559, 838];
const A_TOP = [74, 302, 529];
const A_W = 267;
const A_H = 215;
const B_LEFT = [290, 579, 869];
const B_TOP = 868;
const B_W = 276;
const B_H = 272;
const C_LEFT = [278, 572, 865];
const C_TOP = 1264;
const C_W = 280;
const C_H = 274;
const PAD = { left: 70, right: 24, top: 16, bottom: 44 };
const Y_AXIS_W = 60;
const X_AXIS_H = 40;

type Box = { left: number; top: number; width: number; height: number };
type AxisSpec = { min: number; max: number; breaks: number[]; labels: number[] };

const HOUR_AXIS: AxisSpec = { min: -1.15, max: 24.9, breaks: HOUR_BREAKS, labels: HOUR_LABELS };
const TEMP_AXIS: AxisSpec = { min: 17.95, max: 53.8, breaks: TEMP_BREAKS, labels: TEMP_LABELS };
const RANGE_AXIS: AxisSpec = { min: -6.3, max: 107.5, breaks: RANGE_BREAKS, labels: RANGE_LABELS };
const DURATION_AXIS: AxisSpec = { min: -0.15, max: 3.15, breaks: DURATION_BREAKS, labels: DURATION_LABELS };
const COUNT_AXIS: AxisSpec = { min: -0.75, max: 15.75, breaks: COUNT_BREAKS, labels: COUNT_LABELS };

function withAlpha(hex: string, a: number) {
  const n = parseInt(hex.slice(1), 16);
  return `rgba(${(n >> 16) & 255}, ${(n >> 8) & 255}, ${n & 255}, ${a})`;
}

// spread the palette over however many days a panel has
function dayColor(i: number, n: number) {
  const k = n > 1 ? Math.round((i * (DAY_COLORS.length - 1)) / (n - 1)) : 0;
  return withAlpha(DAY_COLORS[k], 0.85);
}

// panel border drawn on top of the data, like theme_bw
const panelBorder = {
  id: "panelBorder",
  afterDraw(chart: any) {
    const { ctx, chartArea: a } = chart;
    ctx.save();
    ctx.strokeStyle = "#333333";
    ctx.lineWidth = 2;
    ctx.strokeRect(a.left, a.top, a.right - a.left, a.bottom - a.top);
    ctx.restore();
  },
};

function axisOptions(spec: AxisSpec, show: boolean, horizontal: boolean) {
  const isMajor = (v: number) => spec.labels.includes(v);
  return {
    type: "linear",
    bounds: "data",
    min: spec.min,
    max: spec.max,
    afterBuildTicks: (axis: any) => {
      axis.ticks = spec.breaks.map((v) => ({ value: v }));
    },
    afterFit: (axis: any) => {
      if (horizontal) axis.height = X_AXIS_H;
      else axis.width = Y_AXIS_W;
    },
    border: { display: false },
    grid: {
      color: "#EBEBEB",
      lineWidth: (c: any) => (isMajor(c.tick?.value) ? 2.2 : 1.1),
      drawTicks: show,
      tickLength: 6,
      tickWidth: 2,
      tickColor: (c: any) => (isMajor(c.tick?.value) ? "#333333" : "rgba(0,0,0,0)"),
    },
    ticks: {
      display: show,
      autoSkip: false,
      maxRotation: 0,
      padding: 3,
      color: "#4D4D4D",
      font: { size: 20, family: FONT },
      callback: (v: number) => (isMajor(v) ? String(v) : ""),
    },
  };
}

function baseOptions(x: AxisSpec, y: AxisSpec, showX: boolean, showY: boolean) {
  return {
    responsive: false,
    animation: false,
    events: [],
    layout: {
      padding: { left: PAD.left - Y_AXIS_W, right: PAD.right, top: PAD.top, bottom: PAD.bottom - X_AXIS_H },
    },
    plugins: { legend: { display: false }, tooltip: { enabled: false } },
    scales: { x: axisOptions(x, showX, true), y: axisOptions(y, showY, false) },
  };
}

function traceConfig(times: number[], traces: number[][], y: AxisSpec, showX: boolean, showY: boolean) {
  return {
    type: "line",
    data: {
      datasets: traces.map((vals, i) => ({
        data: vals.map((v, k) => ({ x: times[k], y: v })),
        borderColor: dayColor(i, traces.length),
        borderWidth: 2.1,
        pointRadius: 0,
        tension: 0,
        fill: false,
      })),
    },
    options: baseOptions(HOUR_AXIS, y, showX, showY),
    plugins: [panelBorder],
  };
}

// empty bins show as a hairline along zero
function zeroRun(counts: number[]) {
  const pts: { x: number; y: number | null }[] = [];
  counts.forEach((c, k) => {
    if (c !== 0) return;
    if (k === 0 || counts[k - 1] !== 0) {
      if (pts.length) pts.push({ x: DURATION_BINS[k] - BIN_WIDTH / 2, y: null });
      pts.push({ x: DURATION_BINS[k] - BIN_WIDTH / 2, y: 0 });
    }
    pts.push({ x: DURATION_BINS[k] + BIN_WIDTH / 2, y: 0 });
  });
  return pts;
}

function histConfig(counts: number[], showY: boolean) {
  const datasets: any[] = [];
  if (counts.length) {
    datasets.push({
      type: "bar",
      data: counts.map((c, k) => ({ x: DURATION_BINS[k], y: c })),
      backgroundColor: "#595959",
      borderWidth: 0,
      barPercentage: 1,
      categoryPercentage: 1,
    });
    datasets.push({
      type: "line",
      data: zeroRun(counts),
      borderColor: "rgba(89,89,89,0.35)",
      borderWidth: 1,
      pointRadius: 0,
      spanGaps: false,
    });
  }
  const options: any = baseOptions(DURATION_AXIS, COUNT_AXIS, true, showY);
  options.scales.x.offset = false;
  options.scales.x.grid.offset = false;
  return { type: "bar", data: { datasets }, options, plugins: [panelBorder] };
}

function ChartBox({ box, config }: { box: Box; config: () => any }) {
  const ref = useRef<HTMLCanvasElement>(null);
  useEffect(() => {
    if (!ref.current) return;
    const chart = new Chart(ref.current, config());
    return () => chart.destroy();
  }, []);
  const w = box.width + PAD.left + PAD.right;
  const h = box.height + PAD.top + PAD.bottom;
  return (
    <canvas
      ref={ref}
      width={w}
      height={h}
      style={{ position: "absolute", left: box.left - PAD.left, top: box.top - PAD.top, width: w, height: h }}
    />
  );
}

function Strip({ left, top, width, height, text, vertical }: Box & { text: string; vertical?: boolean }) {
  return (
    <div
      style={{
        position: "absolute",
        left,
        top,
        width,
        height,
        boxSizing: "border-box",
        border: "2px solid #333333",
        background: "#D9D9D9",
        color: "#1A1A1A",
        fontSize: 20,
        display: "flex",
        alignItems: "center",
        justifyContent: "center",
        writingMode: vertical ? "vertical-rl" : undefined,
      }}
    >
      {text}
    </div>
  );
}

function Centered({ x, y, children, size, bold, rotate }: any) {
  return (
    <div
      style={{
        position: "absolute",
        left: x,
        top: y,
        transform: `translate(-50%, -50%)${rotate ? " rotate(-90deg)" : ""}`,
        whiteSpace: "nowrap",
        fontSize: size,
        fontWeight: bold ? 700 : 400,
        color: "#000",
      }}
    >
      {children}
    </div>
  );
}

const A_TRACES = [
  [MIN_HEAVY, MIN_MODERATE, MIN_OLD],
  [MEAN_HEAVY, MEAN_MODERATE, MEAN_OLD],
  [MAX_HEAVY, MAX_MODERATE, MAX_OLD],
];
const A_TIMES = [HOURS, HOURS, HALF_HOURS];
const B_TRACES = [RANGE_HEAVY, RANGE_MODERATE, RANGE_OLD];
const C_COUNTS = [EVENTS_HEAVY, EVENTS_MODERATE, EVENTS_OLD];

export default function App() {
  const aRight = A_LEFT[2] + A_W;
  return (
    <div
      style={{
        position: "absolute",
        left: 0,
        top: 0,
        width: 1360,
        height: 1721,
        overflow: "hidden",
        background: "#fff",
        fontFamily: FONT,
      }}
    >
      <div
        style={{
          position: "absolute",
          left: 7,
          top: 6,
          width: 1348,
          height: 1730,
          boxSizing: "border-box",
          border: "1.5px solid #8a8a8a",
        }}
      />

      {/* A */}
      <Centered x={227} y={48} size={20} bold>A</Centered>
      {A_TRACES.map((row, r) =>
        row.map((traces, c) => (
          <ChartBox
            key={`a${r}${c}`}
            box={{ left: A_LEFT[c], top: A_TOP[r], width: A_W, height: A_H }}
            config={() => traceConfig(A_TIMES[r], traces, TEMP_AXIS, r === 2, c === 0)}
          />
        )),
      )}
      {PLOTS.map((p, c) => (
        <Strip key={`as${c}`} left={A_LEFT[c] - 1} top={35} width={A_W + 2} height={A_TOP[0] - 35 + 1} text={p} />
      ))}
      {STATS.map((s, r) => (
        <Strip key={`ar${r}`} left={aRight - 1} top={A_TOP[r] - 1} width={42} height={A_H + 2} text={s} vertical />
      ))}
      <Centered x={227} y={(A_TOP[0] + A_TOP[2] + A_H) / 2} size={24.5} rotate>
        Microclimate thermal proxy (°C)
      </Centered>
      <Centered x={(A_LEFT[0] + aRight) / 2} y={790} size={24.5}>Time of day (hour)</Centered>

      {/* B */}
      <Centered x={228} y={841} size={20} bold>B</Centered>
      {B_TRACES.map((traces, c) => (
        <ChartBox
          key={`b${c}`}
          box={{ left: B_LEFT[c], top: B_TOP, width: B_W, height: B_H }}
          config={() => traceConfig(HALF_HOURS, traces, RANGE_AXIS, true, c === 0)}
        />
      ))}
      {PLOTS.map((p, c) => (
        <Strip key={`bs${c}`} left={B_LEFT[c] - 1} top={828} width={B_W + 2} height={B_TOP - 828 + 1} text={p} />
      ))}
      <Centered x={227} y={B_TOP + B_H / 2} size={24.5} rotate>Variogram range (m)</Centered>
      <Centered x={(B_LEFT[0] + B_LEFT[2] + B_W) / 2} y={1187} size={24.5}>Time of day (hour)</Centered>

      {/* C */}
      <Centered x={228} y={1240} size={20} bold>C</Centered>
      {C_COUNTS.map((counts, c) => (
        <ChartBox
          key={`c${c}`}
          box={{ left: C_LEFT[c], top: C_TOP, width: C_W, height: C_H }}
          config={() => histConfig(counts, c === 0)}
        />
      ))}
      {PLOTS.map((p, c) => (
        <Strip key={`cs${c}`} left={C_LEFT[c] - 1} top={1225} width={C_W + 2} height={C_TOP - 1225 + 1} text={p} />
      ))}
      <Centered x={227} y={C_TOP + C_H / 2} size={24.5} rotate>Number of events</Centered>
      <Centered x={(C_LEFT[0] + C_LEFT[2] + C_W) / 2} y={1583} size={24.5}>Duration of &gt;35°C event (hours)</Centered>

      {/* caption */}
      <div style={{ position: "absolute", left: 22, top: 1641, fontSize: 18, lineHeight: "25px", color: "#333", whiteSpace: "nowrap" }}>
        <div>
          <b>FIGURE 3 |</b> Temporal patterns in microclimate thermal proxy values. <b>(A)</b> Diurnal traces of minimum, mean, and maximum temperature (across dataloggers) for each
        </div>
        <div>
          plot. <b>(B)</b> Diurnal traces of variogram range (higher values indicate higher spatial heterogeneity), for each plot. Traces are colored by day, with earlier dates in orange
        </div>
        <div>
          and later dates in purple. <b>(C)</b> Frequency of extreme thermal events where microclimate thermal proxy values exceeded 35°C for a duration of time.
        </div>
      </div>
    </div>
  );
}
